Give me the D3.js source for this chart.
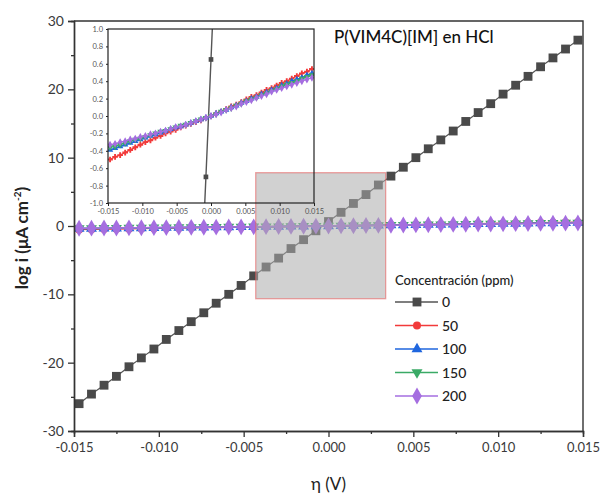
<!DOCTYPE html>
<html>
<head>
<meta charset="utf-8">
<script src="https://cdn.jsdelivr.net/npm/d3@7"></script>
<style>
  html, body { margin: 0; padding: 0; background: #fff; }
  svg { display: block; font-family: Lato, "Open Sans", sans-serif; }
</style>
</head>
<body>
<svg id="chart" width="603" height="497"></svg>
<script>
// ---------------- data ----------------
const eta = [-0.01470,-0.01397,-0.01323,-0.01250,-0.01176,-0.01103,-0.01029,-0.00956,-0.00882,-0.00809,
  -0.00735,-0.00662,-0.00588,-0.00515,-0.00441,-0.00368,-0.00294,-0.00221,-0.00147,-0.00074,
  0.00000,0.00074,0.00147,0.00221,0.00294,0.00368,0.00441,0.00515,0.00588,0.00662,
  0.00735,0.00809,0.00882,0.00956,0.01029,0.01103,0.01176,0.01250,0.01323,0.01397,0.01470];

const logI_0 = [-26.0,-24.6,-23.3,-22.0,-20.6,-19.3,-18.0,-16.6,-15.3,-14.0,
  -12.7,-11.3,-10.0,-8.7,-7.3,-6.0,-4.7,-3.3,-2.0,-0.7,
  0.65,2.0,3.3,4.6,6.0,7.3,8.6,10.0,11.3,12.6,
  13.9,15.3,16.6,17.9,19.3,20.6,21.9,23.3,24.6,25.9,27.2];

const logI_50 = [-0.50,-0.47,-0.45,-0.42,-0.39,-0.36,-0.33,-0.30,-0.28,-0.25,
  -0.23,-0.20,-0.18,-0.16,-0.13,-0.11,-0.09,-0.07,-0.05,-0.02,
  0.00,0.03,0.05,0.08,0.11,0.13,0.16,0.19,0.22,0.24,
  0.27,0.30,0.32,0.35,0.38,0.40,0.43,0.46,0.49,0.51,0.54];

const logI_100 = [-0.39,-0.37,-0.35,-0.33,-0.31,-0.29,-0.27,-0.25,-0.23,-0.21,
  -0.19,-0.17,-0.15,-0.13,-0.12,-0.10,-0.08,-0.06,-0.04,-0.02,
  0.00,0.03,0.05,0.07,0.10,0.12,0.15,0.17,0.20,0.22,
  0.25,0.27,0.30,0.32,0.35,0.37,0.40,0.42,0.44,0.47,0.49];

const logI_150 = [-0.36,-0.35,-0.33,-0.31,-0.29,-0.27,-0.26,-0.24,-0.22,-0.20,
  -0.18,-0.17,-0.15,-0.13,-0.11,-0.10,-0.08,-0.06,-0.04,-0.02,
  0.00,0.02,0.05,0.07,0.09,0.12,0.14,0.17,0.19,0.21,
  0.24,0.26,0.29,0.31,0.34,0.36,0.38,0.40,0.43,0.45,0.47];

const logI_200 = [-0.33,-0.32,-0.30,-0.29,-0.27,-0.26,-0.24,-0.23,-0.21,-0.20,
  -0.18,-0.17,-0.15,-0.13,-0.12,-0.10,-0.08,-0.06,-0.04,-0.02,
  0.00,0.02,0.04,0.07,0.09,0.11,0.14,0.16,0.18,0.21,
  0.23,0.25,0.28,0.30,0.32,0.34,0.36,0.38,0.40,0.42,0.44];

const concLabels = ["0", "50", "100", "150", "200"];
const seriesValues = [logI_0, logI_50, logI_100, logI_150, logI_200];
const seriesColors = ["#4a4a4a", "#f23a3a", "#1f66de", "#3aaa66", "#a56ee0"];
const seriesLineColors = ["#555555", "#f23a3a", "#1f66de", "#3aaa66", "#a56ee0"];

const xTicks = [-0.015, -0.010, -0.005, 0.000, 0.005, 0.010, 0.015];
const xMinorTicks = [-0.0125, -0.0075, -0.0025, 0.0025, 0.0075, 0.0125];
const yTicks = [-30, -20, -10, 0, 10, 20, 30];
const yMinorTicks = [-25, -15, -5, 5, 15, 25];
const insetXTicks = [-0.015, -0.010, -0.005, 0.000, 0.005, 0.010, 0.015];
const insetYTicks = [-1.0, -0.8, -0.6, -0.4, -0.2, 0.0, 0.2, 0.4, 0.6, 0.8, 1.0];
const zoomBoxEta = [-0.00429, 0.00337];
const zoomBoxLogI = [-10.64, 7.8];

const titleText = "P(VIM4C)[IM] en HCl";
const legendTitle = "Concentración (ppm)";

// ---------------- layout ----------------
const svg = d3.select("#chart");
const M = { left: 74, right: 583, top: 21, bottom: 431 };
const x = d3.scaleLinear().domain([-0.015, 0.015]).range([M.left, M.right]);
const y = d3.scaleLinear().domain([-30, 30]).range([M.bottom, M.top]);

const symbols = [d3.symbolSquare, d3.symbolCircle, d3.symbolTriangle, d3.symbolTriangle, d3.symbolDiamond];
const symSizes = [78, 50, 52, 52, 82];
const symRot = [0, 0, 0, 180, 0];

svg.append("defs").append("clipPath").attr("id", "clipMain")
  .append("rect").attr("x", M.left).attr("y", M.top)
  .attr("width", M.right - M.left).attr("height", M.bottom - M.top);

const seriesData = seriesValues.map((vals, k) => vals.map((v, i) => ({ x: eta[i], y: v, k })));

// main series
const gMain = svg.append("g").attr("clip-path", "url(#clipMain)");
const line = d3.line().x(d => x(d.x)).y(d => y(d.y));
seriesData.forEach((data, k) => {
  gMain.append("path").datum(data)
    .attr("fill", "none").attr("stroke", seriesLineColors[k])
    .attr("stroke-width", k === 0 ? 1.2 : 1.6)
    .attr("d", line);
  gMain.append("g").selectAll("path").data(data).enter().append("path")
    .attr("d", d3.symbol().type(symbols[k]).size(symSizes[k]))
    .attr("transform", d => `translate(${x(d.x)},${y(d.y)}) rotate(${symRot[k]})`)
    .attr("fill", seriesColors[k]);
});

// zoom highlight box
svg.append("rect")
  .attr("x", x(zoomBoxEta[0])).attr("y", y(zoomBoxLogI[1]))
  .attr("width", x(zoomBoxEta[1]) - x(zoomBoxEta[0]))
  .attr("height", y(zoomBoxLogI[0]) - y(zoomBoxLogI[1]))
  .attr("fill", "rgb(172,172,172)").attr("fill-opacity", 0.55)
  .attr("stroke", "rgba(230,90,90,0.55)").attr("stroke-width", 1.3);

// main axes
const axL = svg.append("g").attr("transform", `translate(${M.left},0)`)
  .call(d3.axisLeft(y).tickValues(yTicks).tickSize(6).tickPadding(4).tickFormat(d => String(d)));
svg.append("g").attr("transform", `translate(${M.left},0)`)
  .call(d3.axisLeft(y).tickValues(yMinorTicks).tickSize(3).tickFormat(""));
const axB = svg.append("g").attr("transform", `translate(0,${M.bottom})`)
  .call(d3.axisBottom(x).tickValues(xTicks).tickSize(6).tickPadding(6).tickFormat(d => d.toFixed(3)));
svg.append("g").attr("transform", `translate(0,${M.bottom})`)
  .call(d3.axisBottom(x).tickValues(xMinorTicks).tickSize(3).tickFormat(""));
svg.selectAll(".domain").attr("stroke", "#333").attr("stroke-width", 1.4);
svg.selectAll(".tick line").attr("stroke", "#333").attr("stroke-width", 1.3);
axL.selectAll("text").attr("font-size", 14).attr("fill", "#3a3a3a").style("font-family", "Lato, sans-serif");
axB.selectAll("text").attr("font-size", 13).attr("fill", "#3a3a3a").style("font-family", "Lato, sans-serif");

// top & right frame
svg.append("path")
  .attr("d", `M${M.left},${M.top}H${M.right}V${M.bottom}`)
  .attr("fill", "none").attr("stroke", "#333").attr("stroke-width", 1.4);

// axis titles
svg.append("text")
  .attr("transform", `translate(28,${(M.top + M.bottom) / 2 + 12}) rotate(-90)`)
  .attr("text-anchor", "middle").attr("font-size", 17).attr("font-weight", "bold").attr("fill", "#222")
  .call(t => {
    t.append("tspan").text("log i (μA cm");
    t.append("tspan").attr("font-size", 10).attr("dy", -7).text("-2");
    t.append("tspan").attr("dy", 7).text(")");
  });
svg.append("text").attr("x", x(0)).attr("y", 490)
  .attr("text-anchor", "middle").attr("font-size", 17).attr("fill", "#222").text("η (V)");

// title
svg.append("text").attr("x", 334).attr("y", 43)
  .attr("font-size", 17).attr("font-weight", 500).attr("fill", "#111").text(titleText);

// ---------------- inset ----------------
const IN = { left: 108, right: 314, top: 29, bottom: 203 };
const xi = d3.scaleLinear().domain([-0.015, 0.015]).range([IN.left, IN.right]);
const yi = d3.scaleLinear().domain([-1, 1]).range([IN.bottom, IN.top]);
svg.select("defs").append("clipPath").attr("id", "clipInset")
  .append("rect").attr("x", IN.left).attr("y", IN.top)
  .attr("width", IN.right - IN.left).attr("height", IN.bottom - IN.top);

const gIn = svg.append("g").attr("clip-path", "url(#clipInset)");
const lineIn = d3.line().x(d => xi(d.x)).y(d => yi(d.y));
seriesData.forEach((data, k) => {
  gIn.append("path").datum(data)
    .attr("fill", "none").attr("stroke", seriesLineColors[k])
    .attr("stroke-width", k === 0 ? 1.4 : 1.3)
    .attr("d", lineIn);
  gIn.append("g").selectAll("path").data(data).enter().append("path")
    .attr("d", d3.symbol().type(k === 1 ? d3.symbolCross : symbols[k]).size(k === 0 ? 22 : 18))
    .attr("transform", d => `translate(${xi(d.x)},${yi(d.y)}) rotate(${symRot[k]})`)
    .attr("fill", seriesColors[k]);
});

svg.append("rect").attr("x", IN.left).attr("y", IN.top)
  .attr("width", IN.right - IN.left).attr("height", IN.bottom - IN.top)
  .attr("fill", "none").attr("stroke", "#222").attr("stroke-width", 1.2);
const axiL = svg.append("g").attr("transform", `translate(${IN.left},0)`)
  .call(d3.axisLeft(yi).tickValues(insetYTicks).tickSize(2).tickPadding(3).tickFormat(d => d.toFixed(1)));
const axiB = svg.append("g").attr("transform", `translate(0,${IN.bottom})`)
  .call(d3.axisBottom(xi).tickValues(insetXTicks).tickSize(3).tickPadding(3).tickFormat(d => d.toFixed(3)));
[axiL, axiB].forEach(a => {
  a.select(".domain").remove();
  a.selectAll(".tick line").attr("stroke", "#222").attr("stroke-width", 1);
  a.selectAll("text").attr("font-size", 7.5).attr("fill", "#555").style("font-family", "Lato, sans-serif");
});

// ---------------- legend ----------------
const lg = svg.append("g").attr("transform", "translate(395,0)");
lg.append("text").attr("x", 0).attr("y", 285).attr("font-size", 13).attr("font-weight", 500)
  .attr("fill", "#222").text(legendTitle);
const legY = d3.scalePoint().domain(concLabels).range([302, 396]);
concLabels.forEach((lab, k) => {
  const yy = legY(lab);
  lg.append("line").attr("x1", 0).attr("x2", 43).attr("y1", yy).attr("y2", yy)
    .attr("stroke", seriesLineColors[k]).attr("stroke-width", 1.5);
  lg.append("path").attr("d", d3.symbol().type(symbols[k]).size(symSizes[k]))
    .attr("transform", `translate(22,${yy}) rotate(${symRot[k]})`)
    .attr("fill", seriesColors[k]);
  lg.append("text").attr("x", 47).attr("y", yy + 5).attr("font-size", 14).attr("font-weight", 500)
    .attr("fill", "#222").text(lab);
});
</script>
</body>
</html>
